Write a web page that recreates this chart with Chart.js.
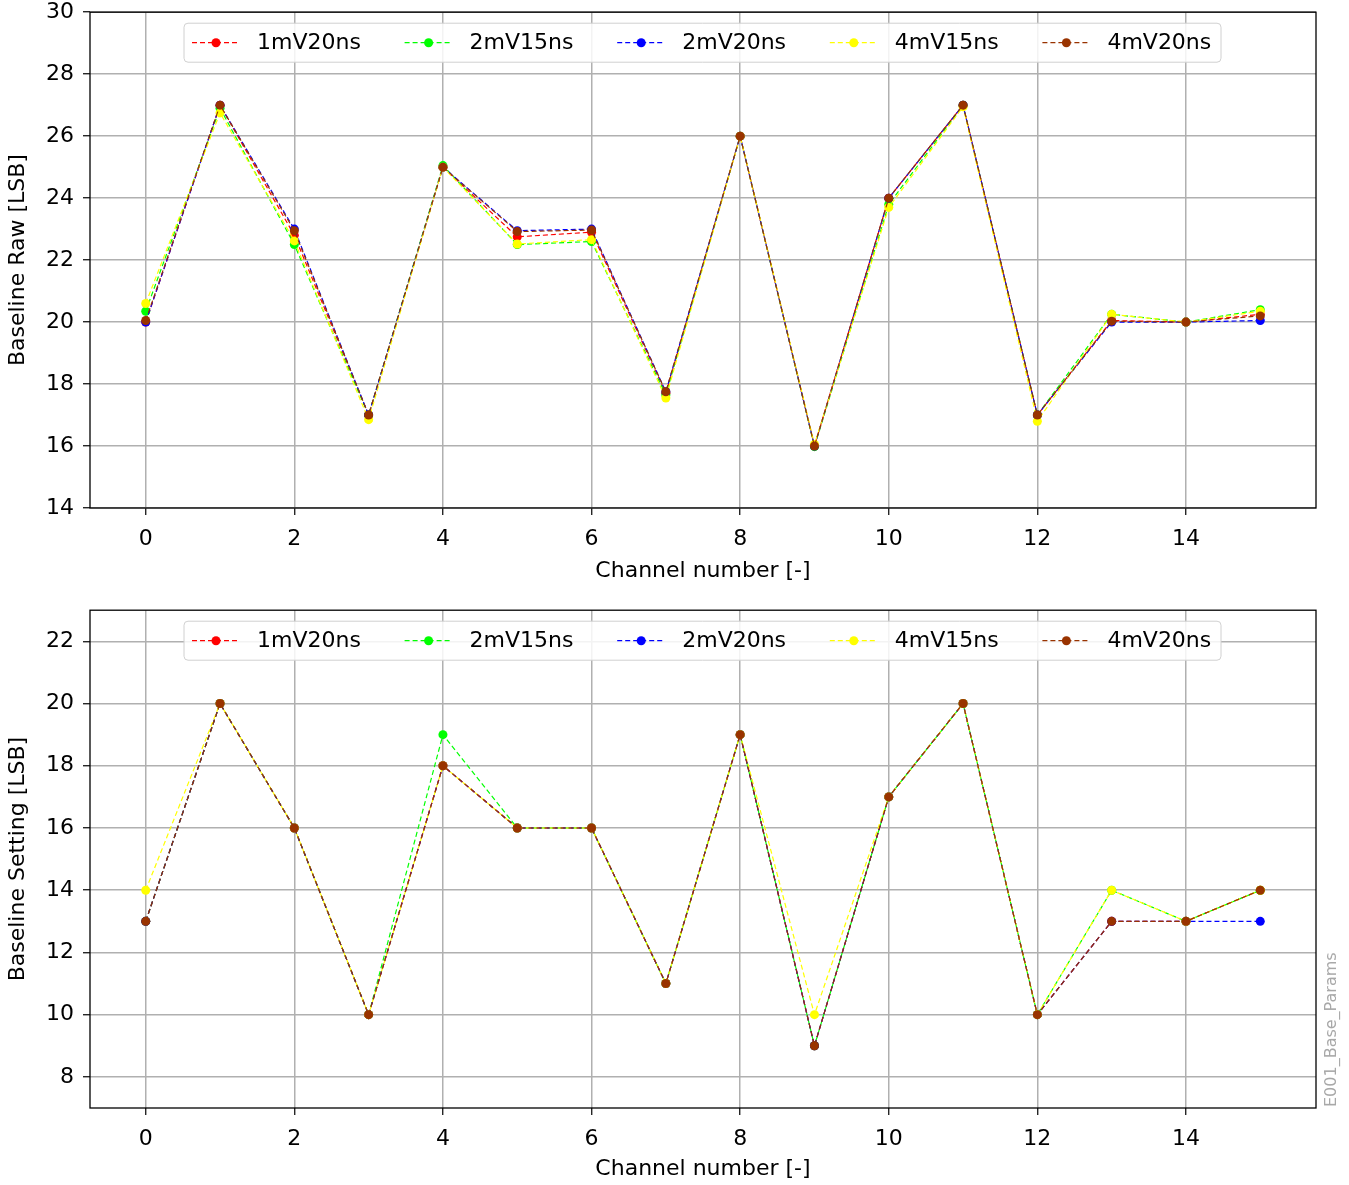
<!DOCTYPE html>
<html>
<head>
<meta charset="utf-8">
<script src="https://cdn.jsdelivr.net/npm/chart.js@4.4.0/dist/chart.umd.min.js"></script>
<style>
  body { margin: 0; background: #fff; width: 1349px; height: 1185px; position: relative; overflow: hidden; }
  canvas { position: absolute; left: 0; }
  #rawChart { top: -10px; }
  #setChart { top: 588px; }
  #mark { position: absolute; left: 1321px; top: 1107px; transform: rotate(-90deg); transform-origin: 0 0;
          font: 16px "DejaVu Sans"; color: #a8a8a8; white-space: nowrap; }
</style>
</head>
<body>
<canvas id="rawChart" width="1349" height="608"></canvas>
<canvas id="setChart" width="1349" height="597"></canvas>
<div id="mark">E001_Base_Params</div>
<script>
var channels = [0, 1, 2, 3, 4, 5, 6, 7, 8, 9, 10, 11, 12, 13, 14, 15];
var seriesNames = ['1mV20ns', '2mV15ns', '2mV20ns', '4mV15ns', '4mV20ns'];
var seriesColors = ['#ff0000', '#00ff00', '#0000ff', '#ffff00', '#993300'];

// Baseline Raw [LSB]
var raw1mV20ns = [20.0, 27.0, 22.8, 17.0, 25.0, 22.75, 22.9, 17.7, 26.0, 16.0, 24.0, 27.0, 17.0, 20.05, 20.0, 20.25];
var raw2mV15ns = [20.35, 26.9, 22.5, 17.0, 25.05, 22.5, 22.6, 17.65, 26.0, 15.98, 23.8, 27.0, 17.0, 20.25, 20.0, 20.4];
var raw2mV20ns = [20.0, 27.0, 23.0, 17.0, 25.0, 22.95, 23.0, 17.75, 26.0, 16.0, 24.0, 27.0, 17.0, 20.0, 20.0, 20.05];
var raw4mV15ns = [20.6, 26.75, 22.62, 16.85, 25.0, 22.52, 22.66, 17.55, 26.0, 16.05, 23.7, 26.95, 16.8, 20.25, 20.0, 20.35];
var raw4mV20ns = [20.05, 27.0, 22.95, 17.0, 25.0, 22.92, 22.97, 17.75, 26.0, 16.0, 24.0, 27.0, 17.0, 20.03, 20.0, 20.2];

// Baseline Setting [LSB]
var set1mV20ns = [13, 20, 16, 10, 18, 16, 16, 11, 19, 9, 17, 20, 10, 13, 13, 14];
var set2mV15ns = [13, 20, 16, 10, 19, 16, 16, 11, 19, 9, 17, 20, 10, 14, 13, 14];
var set2mV20ns = [13, 20, 16, 10, 18, 16, 16, 11, 19, 9, 17, 20, 10, 13, 13, 13];
var set4mV15ns = [14, 20, 16, 10, 18, 16, 16, 11, 19, 10, 17, 20, 10, 14, 13, 14];
var set4mV20ns = [13, 20, 16, 10, 18, 16, 16, 11, 19, 9, 17, 20, 10, 13, 13, 14];

var xTicks = [0, 2, 4, 6, 8, 10, 12, 14];
var rawTicks = [14, 16, 18, 20, 22, 24, 26, 28, 30];
var setTicks = [8, 10, 12, 14, 16, 18, 20, 22];

var FONT = 'DejaVu Sans';
var FSIZE = 22;

function makeDatasets(lists) {
  return lists.map(function (vals, i) {
    return {
      label: seriesNames[i],
      data: channels.map(function (c, j) { return { x: c, y: vals[j] }; }),
      borderColor: seriesColors[i],
      backgroundColor: seriesColors[i],
      borderWidth: 1.2,
      borderDash: [5, 3],
      pointRadius: 4.5,
      pointBorderWidth: 0,
      pointHoverRadius: 4.5,
      tension: 0,
      order: lists.length - i   // last series on top, like matplotlib
    };
  });
}

// box around the plot + legend drawn inside the plot
var framePlugin = {
  id: 'frame',
  afterDraw: function (chart) {
    var ctx = chart.ctx, a = chart.chartArea;
    ctx.save();
    ctx.strokeStyle = '#000';
    ctx.lineWidth = 1.3;
    ctx.strokeRect(a.left, a.top, a.right - a.left, a.bottom - a.top);

    var bx = 184, by = a.top + 11, bw = 1037, bh = 39, r = 4;
    ctx.beginPath();
    ctx.moveTo(bx + r, by);
    ctx.arcTo(bx + bw, by, bx + bw, by + bh, r);
    ctx.arcTo(bx + bw, by + bh, bx, by + bh, r);
    ctx.arcTo(bx, by + bh, bx, by, r);
    ctx.arcTo(bx, by, bx + bw, by, r);
    ctx.closePath();
    ctx.fillStyle = 'rgba(255,255,255,0.85)';
    ctx.fill();
    ctx.strokeStyle = '#d0d0d0';
    ctx.lineWidth = 1;
    ctx.stroke();

    var cy = by + bh / 2;
    chart.data.datasets.forEach(function (ds, i) {
      var x0 = bx + 8 + i * 212.6;
      ctx.strokeStyle = ds.borderColor;
      ctx.lineWidth = 1.2;
      ctx.setLineDash([5, 3]);
      ctx.beginPath();
      ctx.moveTo(x0, cy);
      ctx.lineTo(x0 + 48, cy);
      ctx.stroke();
      ctx.setLineDash([]);
      ctx.fillStyle = ds.borderColor;
      ctx.beginPath();
      ctx.arc(x0 + 24, cy, 4.5, 0, Math.PI * 2);
      ctx.fill();
      ctx.fillStyle = '#000';
      ctx.font = FSIZE + 'px "' + FONT + '"';
      ctx.textBaseline = 'middle';
      ctx.textAlign = 'left';
      ctx.fillText(ds.label, x0 + 65, cy + 1);
    });
    ctx.restore();
  }
};

function buildChart(id, lists, yMin, yMax, yTickList, yTitle, xAxisHeight, titleBottom) {
  var ctx = document.getElementById(id).getContext('2d');
  return new Chart(ctx, {
    type: 'line',
    data: { datasets: makeDatasets(lists) },
    options: {
      responsive: false,
      animation: false,
      devicePixelRatio: 1,
      layout: { padding: { top: 0, right: 33, left: 0, bottom: 0 } },
      plugins: { legend: { display: false }, tooltip: { enabled: false } },
      scales: {
        x: {
          type: 'linear',
          min: -0.75,
          max: 15.75,
          afterBuildTicks: function (scale) {
            scale.ticks = xTicks.map(function (v) { return { value: v }; });
          },
          afterFit: function (scale) { scale.height = xAxisHeight; },
          grid: { color: '#b0b0b0', lineWidth: 1.5, tickLength: 7, tickColor: '#000', tickWidth: 1.2 },
          border: { display: false },
          ticks: { color: '#000', font: { family: FONT, size: FSIZE }, padding: 11, maxRotation: 0 },
          title: { display: true, text: 'Channel number [-]', color: '#000',
                   font: { family: FONT, size: FSIZE }, padding: { top: 0, bottom: titleBottom } }
        },
        y: {
          min: yMin,
          max: yMax,
          afterBuildTicks: function (scale) {
            scale.ticks = yTickList.map(function (v) { return { value: v }; });
          },
          afterFit: function (scale) { scale.width = 90; },
          grid: { color: '#b0b0b0', lineWidth: 1.5, tickLength: 7, tickColor: '#000', tickWidth: 1.2 },
          border: { display: false },
          ticks: { color: '#000', font: { family: FONT, size: FSIZE }, padding: 9 },
          title: { display: true, text: yTitle, color: '#000',
                   font: { family: FONT, size: FSIZE }, padding: { top: 5, bottom: 0 } }
        }
      }
    },
    plugins: [framePlugin]
  });
}

buildChart('rawChart', [raw1mV20ns, raw2mV15ns, raw2mV20ns, raw4mV15ns, raw4mV20ns],
           14, 30, rawTicks, 'Baseline Raw [LSB]', 90, 14);
buildChart('setChart', [set1mV20ns, set2mV15ns, set2mV20ns, set4mV15ns, set4mV20ns],
           7, 23, setTicks, 'Baseline Setting [LSB]', 77, 3);
</script>
</body>
</html>
